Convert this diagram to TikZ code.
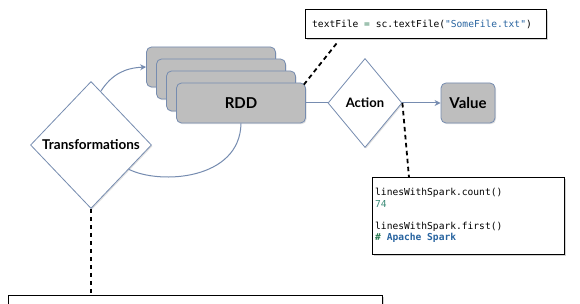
\documentclass[tikz,border=0pt]{standalone}
\usepackage{fontspec}
\setmainfont{Lato}
\setsansfont{Lato}
\setmonofont{DejaVu Sans Mono}
\usetikzlibrary{shapes.geometric,arrows.meta,calc,shadows}
\definecolor{edgeblue}{RGB}{118,140,176}
\definecolor{rddgray}{RGB}{190,190,190}
\definecolor{codegreen}{RGB}{40,120,80}
\definecolor{codeblue}{RGB}{40,100,160}
\definecolor{codeteal}{RGB}{60,140,120}
\tikzset{
  x=1pt, y=-1pt,
  shade/.style={drop shadow={opacity=0.25, shadow xshift=1pt, shadow yshift=-1.2pt}},
  rddbox/.style={draw=edgeblue, line width=0.8pt, fill=rddgray, rounded corners=5pt,
     minimum width=129pt, minimum height=40pt, inner sep=0pt, shade},
  valbox/.style={draw=edgeblue, line width=0.8pt, fill=rddgray, rounded corners=5pt,
     minimum width=54pt, minimum height=40pt, inner sep=0pt, shade,
     font=\bfseries\fontsize{15}{17}\selectfont},
  decision/.style={diamond, draw=edgeblue, line width=0.8pt, fill=white, inner sep=0pt, shade},
  codebox/.style={draw=black, line width=1pt, fill=white, inner sep=0pt,
     drop shadow={opacity=0.35, shadow xshift=1.5pt, shadow yshift=-1.5pt}},
  codetext/.style={font=\ttfamily\fontsize{9.6}{11.2}\selectfont, anchor=west, inner sep=0pt},
  flow/.style={draw=edgeblue, line width=1pt},
  flowarrow/.style={flow, -{Stealth[length=6pt,width=6pt]}},
  leader/.style={draw=black, line width=1.8pt, dash pattern=on 4.5pt off 3.5pt}
}
\begin{document}
\begin{tikzpicture}
\useasboundingbox (0,0) rectangle (580,304);
\fill[white] (0,0) rectangle (580,304);

% RDD stack
\node[rddbox] (r1) at (211,67) {};
\node[rddbox] (r2) at (221,79) {};
\node[rddbox] (r3) at (231,91) {};
\node[rddbox, font=\bfseries\fontsize{15}{17}\selectfont] (r4) at (241,103) {RDD};

% decisions
\node[decision, minimum width=121pt, minimum height=127pt,
      font=\bfseries\fontsize{13.5}{16}\selectfont] (trans) at (91,145) {Transformations};
\node[decision, minimum width=74pt, minimum height=89pt,
      font=\bfseries\fontsize{13}{15}\selectfont] (act) at (365,103) {Action};

% value
\node[valbox] (val) at (468,103) {Value};

% cycle arcs
\coordinate (tup) at ($(trans.north)!0.16!(trans.east)$);
\coordinate (tlow) at ($(trans.east)!0.38!(trans.south)$);
\draw[flowarrow] (tup) .. controls (112,74) and (125,68) .. (r1.west);
\draw[flow] (r4.south) .. controls (240,180) and (160,185) .. (tlow);

% flow
\draw[flow] (r4.east) -- (act.west);
\draw[flowarrow] (act.east) -- (val.west);

% code boxes
\node[codebox, minimum width=241pt, minimum height=29pt] (c1) at (425.5,24.5) {};
\node[codetext] (c1t) at (312,24.5) {textFile \textcolor{codegreen}{=} sc.textFile(\textcolor{codeblue}{"SomeFile.txt"})};

\node[codebox, minimum width=192pt, minimum height=76pt] (c2) at (468,216) {};
\node[codetext] (c2a) at (375,193) {linesWithSpark.count()};
\node[codetext, text=codeteal] (c2b) at (375,204) {74};
\node[codetext] (c2c) at (375,227) {linesWithSpark.first()};
\node[codetext] (c2d) at (375,238) {\textcolor{codegreen}{\bfseries\#} \textcolor{codeblue}{\bfseries Apache Spark}};

\begin{scope}
\clip (0,0) rectangle (580,304);
\node[codebox, minimum width=374pt, minimum height=40pt] (c3) at (195,315) {};
\end{scope}

% leaders
\coordinate (c1foot) at ($(c1.south west)+(32,4)$);
\draw[leader] (c1foot) -- ($(r4.north east)+(-2,2)$);
\coordinate (c2head) at (c2.north -| 409,0);
\draw[leader] (act.east) -- (c2head);
\draw[leader] (trans.south) -- (trans.south |- c3.north);
\end{tikzpicture}
\end{document}
